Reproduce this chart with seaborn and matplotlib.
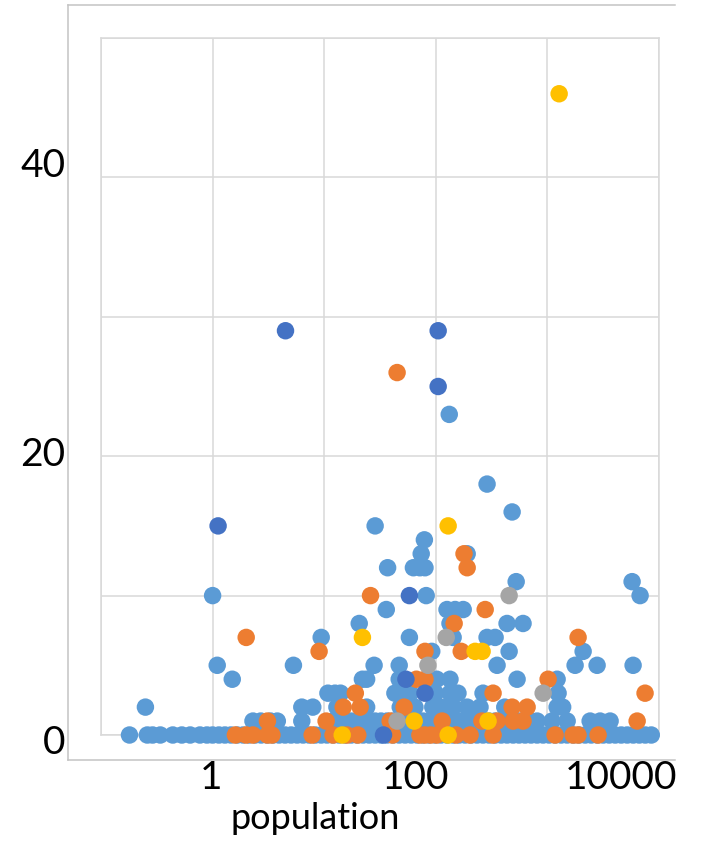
import matplotlib
matplotlib.use("Agg")
import matplotlib.pyplot as plt
from matplotlib.ticker import NullLocator
import pandas as pd
import seaborn as sns

sns.set_style("white")
plt.rcParams["font.family"] = ["Lato", "DejaVu Sans"]
plt.rcParams["text.color"] = "black"
plt.rcParams["axes.labelcolor"] = "black"

# ---- series values (population, count) ----
light_x = [
    132, 288, 483, 28.6, 79, 74, 191, 37, 63, 72, 80, 525, 5740,
    1.0, 82, 6770, 36, 126, 149, 176, 20.6, 134, 435, 605,
    9.4, 58, 143, 288, 340, 92, 454, 2090,
    1.1, 5.3, 28, 47, 354, 1771, 2788, 5860,
    1.5, 22, 24, 47, 102, 134, 535, 1222,
    10.8, 12.5, 14, 43, 51, 59, 99, 134, 158, 265, 1247,
    0.25, 6.3, 7.9, 13, 24, 48, 65, 94, 110, 126, 143, 191, 249, 415, 1222, 1370,
    2.3, 2.7, 3.3, 3.8, 6.3,
    12.0, 13.6, 15.4, 17.4, 19.7, 22.3, 25.3, 28.6, 32.3, 36.6, 41.4, 46.9,
    53.1, 60.1, 68.0, 76.9, 87.1, 98.6, 111, 126, 143, 162, 183, 207, 234,
    265, 300, 340, 385, 435, 493, 557, 631, 714, 809,
    1100, 1503, 2415, 2966, 3647,
    0.18, 0.26, 0.29, 0.34, 0.44, 0.53, 0.63, 0.77,
    0.89, 1.0, 1.14, 1.29, 1.46, 1.66, 1.88, 2.12, 2.40, 2.72, 3.08, 3.48,
    3.94, 4.46, 5.05, 5.72, 6.47, 7.33, 8.30, 9.39, 10.6, 12.0, 13.6, 15.4,
    17.4, 19.7, 22.3, 25.3, 28.6, 32.3, 36.6, 41.4, 46.9, 53.1, 60.1, 68.0,
    76.9, 87.1, 98.6, 111, 126, 143, 162, 183, 207, 234, 265, 300, 340, 385,
    435, 493, 557, 631, 714, 809, 915, 1036, 1173, 1328, 1503, 1701, 1926,
    2180, 2468, 2794, 3162, 3580, 4052, 4587, 5193, 5878, 6654, 7532, 8527,
]
light_y = [
    23, 18, 16, 15, 14, 13, 13, 12, 12, 12, 12, 11, 11,
    10, 10, 10, 9, 9, 9, 9, 8, 8, 8, 8,
    7, 7, 7, 7, 7, 6, 6, 6,
    5, 5, 5, 5, 5, 5, 5, 5,
    4, 4, 4, 4, 4, 4, 4, 4,
    3, 3, 3, 3, 3, 3, 3, 3, 3, 3, 3,
    2, 2, 2, 2, 2, 2, 2, 2, 2, 2, 2, 2, 2, 2, 2, 2,
    1, 1, 1, 1, 1,
    1, 1, 1, 1, 1, 1, 1, 1, 1, 1, 1, 1,
    1, 1, 1, 1, 1, 1, 1, 1, 1, 1, 1, 1, 1,
    1, 1, 1, 1, 1, 1, 1, 1, 1, 1,
    1, 1, 1, 1, 1,
    0, 0, 0, 0, 0, 0, 0, 0,
    0, 0, 0, 0, 0, 0, 0, 0, 0, 0, 0, 0,
    0, 0, 0, 0, 0, 0, 0, 0, 0, 0, 0, 0,
    0, 0, 0, 0, 0, 0, 0, 0, 0, 0, 0, 0,
    0, 0, 0, 0, 0, 0, 0, 0, 0, 0, 0, 0, 0, 0,
    0, 0, 0, 0, 0, 0, 0, 0, 0, 0, 0, 0, 0,
    0, 0, 0, 0, 0, 0, 0, 0, 0, 0, 0, 0,
]

orange_x = [
    45, 179, 191, 26, 277, 146, 2.0, 1884, 9.0, 80, 169,
    67, 80, 1015, 19, 326, 7500, 14.8, 21, 52, 483, 658,
    3.1, 10.4, 39, 114, 259, 354, 493, 605, 6370,
    1.6, 2.0, 2.3, 3.1, 3.4, 7.8, 12, 16, 20, 41, 72, 80, 90, 102,
    152, 203, 326, 1172, 1700, 1880, 2845,
]
orange_y = [
    26, 13, 12, 10, 9, 8, 7, 7, 6, 6, 6,
    4, 4, 4, 3, 3, 3, 2, 2, 2, 2, 2,
    1, 1, 1, 1, 1, 1, 1, 1, 1,
    0, 0, 0, 0, 0, 0, 0, 0, 0, 0, 0, 0, 0, 0,
    0, 0, 0, 0, 0, 0, 0,
]

gray_x = [454, 124, 85, 45, 916]
gray_y = [10, 7, 5, 1, 3]

gold_x = [1274, 129, 22, 225, 260, 64, 294, 14.5, 129]
gold_y = [46, 15, 7, 6, 6, 1, 1, 0, 0]

navy_x = [4.5, 105, 105, 1.12, 58, 54, 80, 34]
navy_y = [29, 29, 25, 15, 10, 4, 3, 0]

series_names = ["series5", "series2", "series3", "series4", "series1"]
series_colors = ["#5B9BD5", "#ED7D31", "#A5A5A5", "#FFC000", "#4472C4"]

y_ticks = [0, 20, 40]
x_ticks = [1, 100, 10000]
x_tick_labels = ["1", "100", "10000"]

frames = []
for name, xs, ys in zip(series_names,
                        [light_x, orange_x, gray_x, gold_x, navy_x],
                        [light_y, orange_y, gray_y, gold_y, navy_y]):
    frames.append(pd.DataFrame({"population": xs, "count": ys, "series": name}))
df = pd.concat(frames, ignore_index=True)

W, H = 703, 842
fig = plt.figure(figsize=(W / 100, H / 100), dpi=100)
fig.patch.set_facecolor("white")

# outer frame carrying the tick labels and axis title
frame = fig.add_axes([68 / W, 82 / H, 607 / W, 755 / H])
frame.set_xscale("log")
frame.set_xlim(0.0406, 33900)
frame.set_ylim(-1.39, 50.95)
frame.set_xticks(x_ticks)
frame.set_xticklabels(x_tick_labels)
frame.xaxis.set_minor_locator(NullLocator())
frame.set_yticks(y_ticks)
frame.tick_params(axis="both", length=0, labelsize=28, colors="black")
frame.tick_params(axis="x", pad=0)
frame.tick_params(axis="y", pad=2)
for side in ["left", "top", "bottom"]:
    frame.spines[side].set_color("#c4c4c4")
    frame.spines[side].set_linewidth(1.1)
frame.spines["right"].set_visible(False)
frame.set_xlabel("population", fontsize=26, color="black")
frame.xaxis.set_label_coords(0.407, -0.056)
frame.set_ylabel("")

# plotting area with grid
inner = fig.add_axes([101 / W, 107 / H, 558 / W, 697 / H])
inner.set_xscale("log")
sns.scatterplot(data=df, x="population", y="count", hue="series",
                hue_order=series_names, palette=dict(zip(series_names, series_colors)),
                s=158, linewidth=0, alpha=1, legend=False, ax=inner,
                clip_on=False, zorder=3)
inner.set_xlim(0.1, 10000)
inner.set_ylim(0, 50)
inner.set_xticks([0.1, 1, 10, 100, 1000, 10000])
inner.xaxis.set_minor_locator(NullLocator())
inner.set_yticks([0, 10, 20, 30, 40, 50])
inner.tick_params(axis="both", length=0, labelbottom=False, labelleft=False)
inner.set_axisbelow(True)
inner.grid(True, color="#d9d9d9", linewidth=1.1)
for side in inner.spines:
    inner.spines[side].set_color("#d9d9d9")
    inner.spines[side].set_linewidth(1.1)
inner.set_xlabel("")
inner.set_ylabel("")

fig.savefig("out.png", dpi=100)
